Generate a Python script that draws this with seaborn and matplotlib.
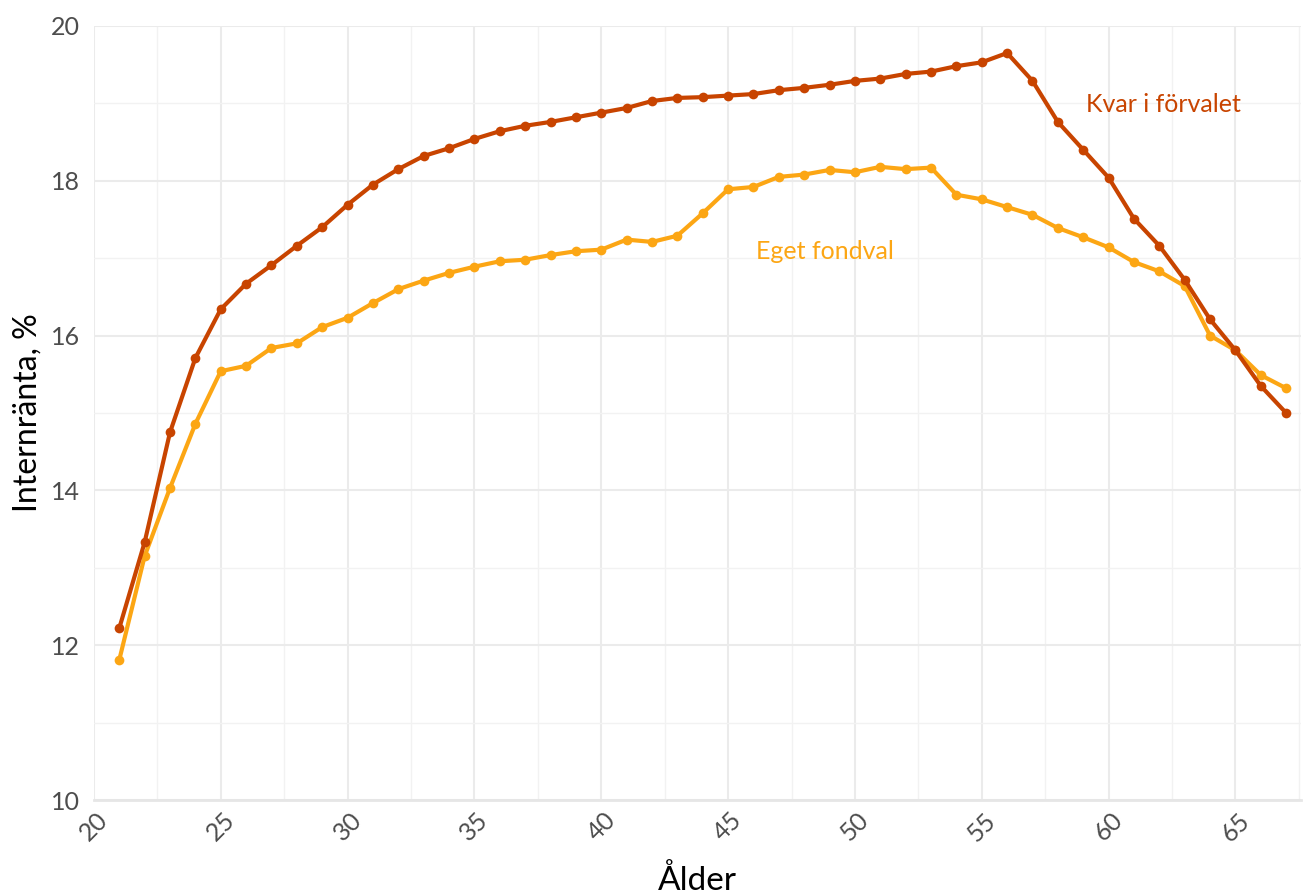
import numpy as np
import pandas as pd
import matplotlib
matplotlib.use("Agg")
import matplotlib.pyplot as plt
import seaborn as sns

alder = list(range(21, 68))

kvar_i_forvalet = [12.22, 13.33, 14.75, 15.71, 16.34, 16.67, 16.91, 17.16, 17.40, 17.69,
                   17.95, 18.15, 18.32, 18.42, 18.54, 18.64, 18.71, 18.76, 18.82, 18.88,
                   18.94, 19.03, 19.07, 19.08, 19.10, 19.12, 19.17, 19.20, 19.24, 19.29,
                   19.32, 19.38, 19.41, 19.48, 19.53, 19.65, 19.29, 18.76, 18.40, 18.04,
                   17.51, 17.16, 16.72, 16.21, 15.81, 15.35, 15.00]

eget_fondval = [11.81, 13.15, 14.03, 14.86, 15.54, 15.61, 15.84, 15.90, 16.11, 16.23,
                16.42, 16.60, 16.71, 16.81, 16.89, 16.96, 16.98, 17.04, 17.09, 17.11,
                17.24, 17.21, 17.29, 17.58, 17.89, 17.92, 18.05, 18.08, 18.14, 18.11,
                18.18, 18.15, 18.17, 17.82, 17.76, 17.66, 17.56, 17.39, 17.27, 17.14,
                16.95, 16.83, 16.64, 16.00, 15.81, 15.49, 15.32]

grupper = ["Kvar i förvalet", "Eget fondval"]
farger = {"Kvar i förvalet": "#c84400", "Eget fondval": "#fca614"}

df = pd.concat([
    pd.DataFrame({"alder": alder, "ranta": kvar_i_forvalet, "grupp": grupper[0]}),
    pd.DataFrame({"alder": alder, "ranta": eget_fondval, "grupp": grupper[1]}),
])

sns.set_theme(style="white")
plt.rcParams["font.family"] = ["Lato", "DejaVu Sans"]

fig = plt.figure(figsize=(13.04, 8.94), dpi=100)
ax = fig.add_axes([0.072, 0.105, 0.926, 0.866])

sns.lineplot(data=df, x="alder", y="ranta", hue="grupp", palette=farger,
             hue_order=grupper[::-1], marker="o", markersize=7, markeredgewidth=0,
             linewidth=3, legend=False, ax=ax)

ax.set_xlim(20, 67.6)
ax.set_ylim(10, 20)
ax.set_xticks(range(20, 66, 5))
ax.set_xticks(np.arange(22.5, 68, 5), minor=True)
ax.set_yticks(range(10, 21, 2))
ax.set_yticks(range(11, 20, 2), minor=True)
ax.grid(which="major", color="#ebebeb", linewidth=1.5)
ax.grid(which="minor", color="#f2f2f2", linewidth=1.0)
ax.set_axisbelow(True)

for s in ["top", "right", "left"]:
    ax.spines[s].set_visible(False)
ax.spines["bottom"].set_color("#e6e6e6")
ax.spines["bottom"].set_linewidth(2)

ax.tick_params(axis="both", which="both", length=0, labelsize=18, labelcolor="#4d4d4d")
ax.tick_params(axis="y", pad=10)
ax.tick_params(axis="x", pad=6)
plt.setp(ax.get_xticklabels(), rotation=45, ha="center", va="top")

ax.set_xlabel("Ålder", fontsize=24, color="black", labelpad=14)
ax.set_ylabel("Internränta, %", fontsize=23, color="black", labelpad=6)

ax.text(59.1, 18.99, "Kvar i förvalet", color=farger["Kvar i förvalet"],
        fontsize=18, va="center", ha="left")
ax.text(46.1, 17.09, "Eget fondval", color=farger["Eget fondval"],
        fontsize=18, va="center", ha="left")

fig.savefig("out.png", dpi=100)
